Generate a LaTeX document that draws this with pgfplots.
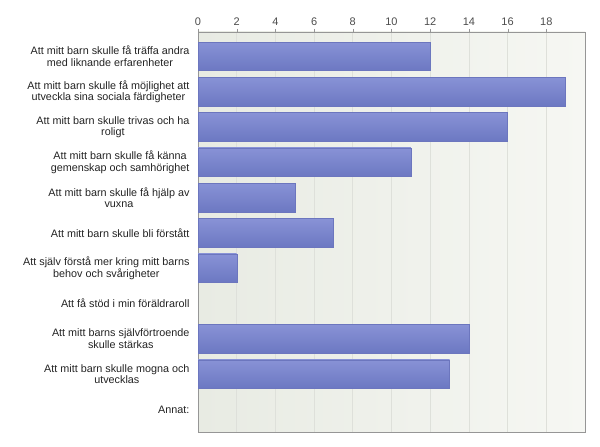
\documentclass[border=0pt]{standalone}
\usepackage{pgfplots}
\pgfplotsset{compat=1.18}
\usepackage{fontspec}
\setmainfont{Liberation Sans}
\definecolor{barT}{RGB}{136,146,214}
\definecolor{barB}{RGB}{108,120,194}
\definecolor{barD}{RGB}{108,118,190}
\definecolor{bgL}{RGB}{232,235,227}
\definecolor{bgR}{RGB}{246,247,243}
\definecolor{gridc}{RGB}{222,224,218}
\definecolor{axc}{RGB}{150,150,150}
\definecolor{txt}{RGB}{35,35,35}
\begin{document}
\begin{tikzpicture}
\path[use as bounding box] (0pt,0pt) rectangle (600pt,447pt);
\begin{axis}[
  at={(198pt,15pt)}, anchor=south west,
  scale only axis, width=387pt, height=400pt,
  xbar, bar width=0.81, bar shift=0pt,
  xmin=0, xmax=20, xtick={0,2,...,18},
  ymin=-0.69, ymax=10.64, y dir=reverse,
  ytick={0,...,10},
  yticklabels={{Att mitt barn skulle få träffa andra\\med liknande erfarenheter},
    {Att mitt barn skulle få möjlighet att\\utveckla sina sociala färdigheter},
    {Att mitt barn skulle trivas och ha\\roligt},
    {Att mitt barn skulle få känna\\gemenskap och samhörighet},
    {Att mitt barn skulle få hjälp av\\vuxna},
    {Att mitt barn skulle bli förstått},
    {Att själv förstå mer kring mitt barns\\behov och svårigheter},
    {Att få stöd i min föräldraroll},
    {Att mitt barns självförtroende\\skulle stärkas},
    {Att mitt barn skulle mogna och\\utvecklas},
    {Annat:}},
  yticklabel style={align=center, font=\fontsize{10.8}{11.5}\selectfont, text=txt, xshift=-2pt},
  xticklabel style={font=\fontsize{11}{12}\selectfont, text=black!70},
  /pgf/number format/assume math mode=true,
  xtick pos=upper, xticklabel pos=upper,
  tick align=outside, major tick length=3pt,
  xtick style={color=axc},
  ytick style={draw=none},
  xmajorgrids, grid style={color=gridc, line width=0.8pt},
  axis line style={color=axc},
  axis background/.style={left color=bgL, right color=bgR},
  bb/.style={draw=barD, top color=barT, bottom color=barB},
]
\addplot[bb] coordinates {(12,0)};
\addplot[bb] coordinates {(19,1)};
\addplot[bb] coordinates {(16,2)};
\addplot[bb] coordinates {(11,3)};
\addplot[bb] coordinates {(5,4)};
\addplot[bb] coordinates {(7,5)};
\addplot[bb] coordinates {(2,6)};
\addplot[bb] coordinates {(14,8)};
\addplot[bb] coordinates {(13,9)};
\end{axis}
\end{tikzpicture}
\end{document}
